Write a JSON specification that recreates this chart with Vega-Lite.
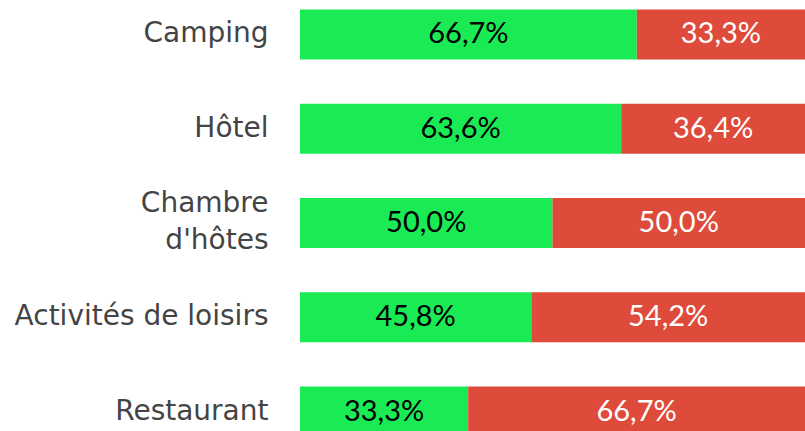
{
  "$schema": "https://vega.github.io/schema/vega-lite/v6.json",
  "width": 505,
  "height": 446,
  "autosize": {"type": "none"},
  "padding": {"left": 300, "top": 0, "right": 0, "bottom": 0},
  "config": {
    "view": {"stroke": null},
    "locale": {"number": {"decimal": ",", "thousands": " ", "grouping": [3], "currency": ["", " €"]}}
  },
  "data": {
    "values": [
      {"categorie": "Camping", "type": "Positif", "part": 0.667},
      {"categorie": "Camping", "type": "Négatif", "part": 0.333},
      {"categorie": "Hôtel", "type": "Positif", "part": 0.636},
      {"categorie": "Hôtel", "type": "Négatif", "part": 0.364},
      {"categorie": "Chambre d'hôtes", "type": "Positif", "part": 0.5},
      {"categorie": "Chambre d'hôtes", "type": "Négatif", "part": 0.5},
      {"categorie": "Activités de loisirs", "type": "Positif", "part": 0.458},
      {"categorie": "Activités de loisirs", "type": "Négatif", "part": 0.542},
      {"categorie": "Restaurant", "type": "Positif", "part": 0.333},
      {"categorie": "Restaurant", "type": "Négatif", "part": 0.667}
    ]
  },
  "transform": [
    {"stack": "part", "groupby": ["categorie"], "sort": [{"field": "type", "order": "descending"}], "as": ["x0", "x1"]},
    {"calculate": "(datum.x0 + datum.x1) / 2", "as": "xm"}
  ],
  "encoding": {
    "y": {
      "field": "categorie",
      "type": "nominal",
      "sort": ["Camping", "Hôtel", "Chambre d'hôtes", "Activités de loisirs", "Restaurant"],
      "scale": {"paddingInner": 0.468, "paddingOuter": 0.1},
      "axis": {
        "title": null,
        "ticks": false,
        "domain": false,
        "labelPadding": 32,
        "labelFont": "DejaVu Sans",
        "labelFontSize": 28,
        "labelColor": "#444444",
        "labelLineHeight": 37,
        "labelLimit": 400,
        "labelOffset": {"condition": {"test": "datum.label == \"Chambre d'hôtes\"", "value": -19}, "value": 0},
        "labelExpr": "datum.label == \"Chambre d'hôtes\" ? ['Chambre', \"d'hôtes\"] : datum.label"
      }
    }
  },
  "layer": [
    {
      "mark": {"type": "bar"},
      "encoding": {
        "x": {"field": "x0", "type": "quantitative", "scale": {"domain": [0, 1], "nice": false}, "axis": null},
        "x2": {"field": "x1"},
        "color": {
          "field": "type",
          "type": "nominal",
          "scale": {"domain": ["Positif", "Négatif"], "range": ["#1aeb55", "#de4b3b"]},
          "legend": null
        }
      }
    },
    {
      "mark": {"type": "text", "font": "Lato", "fontSize": 29, "baseline": "middle", "align": "center"},
      "encoding": {
        "x": {"field": "xm", "type": "quantitative"},
        "text": {"field": "part", "type": "quantitative", "format": ".1%"},
        "color": {"condition": {"test": "datum.type == 'Positif'", "value": "#000000"}, "value": "#ffffff"}
      }
    }
  ]
}
